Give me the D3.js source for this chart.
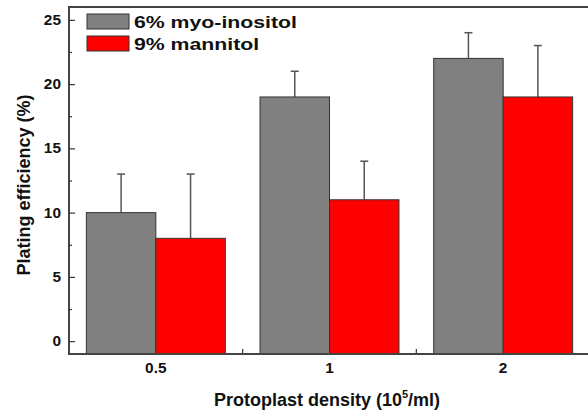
<!DOCTYPE html>
<html>
<head>
<meta charset="utf-8">
<script src="https://cdn.jsdelivr.net/npm/d3@7"></script>
<style>
  body { margin: 0; background: #fff; }
  text { font-family: "Liberation Sans", Arial, sans-serif; font-weight: bold; fill: #111; }
</style>
</head>
<body>
<div id="chart"></div>
<script>
// data
var densities = ["0.5", "1", "2"];
var seriesNames = ["6% myo-inositol", "9% mannitol"];
var inositol = [10, 19, 22];
var inositolErr = [3, 2, 2];
var mannitol = [8, 11, 19];
var mannitolErr = [5, 3, 4];
var yTicks = [0, 5, 10, 15, 20, 25];
var colors = ["#808080", "#ff0000"];

var width = 588, height = 410;
var plotLeft = 69, plotRight = 590, plotTop = 7, plotBottom = 354;

var svg = d3.select("#chart").append("svg")
	.attr("width", width)
	.attr("height", height);

var x = d3.scaleBand().domain(densities).range([plotLeft, plotRight]);
var xs = d3.scaleBand().domain(seriesNames).range([0, x.bandwidth()]).paddingOuter(0.25).paddingInner(0);
var y = d3.scaleLinear().domain([-1, 26]).range([plotBottom, plotTop]);

var rows = densities.map(function(d, i) {
	return [
		{ cat: d, s: seriesNames[0], v: inositol[i], e: inositolErr[i], c: colors[0] },
		{ cat: d, s: seriesNames[1], v: mannitol[i], e: mannitolErr[i], c: colors[1] }
	];
});
var flat = [].concat.apply([], rows);

function cx(d) { return x(d.cat) + xs(d.s) + xs.bandwidth() / 2; }

// stretch text a bit wider, the original font is broader than Liberation
function widen(sel, k) {
	sel.each(function() {
		var w = this.getComputedTextLength();
		d3.select(this).attr("textLength", w * k).attr("lengthAdjust", "spacingAndGlyphs");
	});
}

// error bars (upper only), drawn behind bars
var err = svg.selectAll(".err").data(flat).enter().append("g").attr("class", "err");
err.append("line")
	.attr("x1", cx).attr("x2", cx)
	.attr("y1", function(d) { return y(d.v); })
	.attr("y2", function(d) { return y(d.v + d.e); })
	.attr("stroke", "#555").attr("stroke-width", 1.5);
err.append("line")
	.attr("x1", function(d) { return cx(d) - 4; })
	.attr("x2", function(d) { return cx(d) + 4; })
	.attr("y1", function(d) { return y(d.v + d.e); })
	.attr("y2", function(d) { return y(d.v + d.e); })
	.attr("stroke", "#555").attr("stroke-width", 1.5);

svg.selectAll(".bar").data(flat).enter().append("rect")
	.attr("class", "bar")
	.attr("x", function(d) { return x(d.cat) + xs(d.s); })
	.attr("y", function(d) { return y(d.v); })
	.attr("width", xs.bandwidth())
	.attr("height", function(d) { return y(-1) - y(d.v); })
	.attr("fill", function(d) { return d.c; })
	.attr("stroke", "#333").attr("stroke-width", 1);

// frame: top line, left axis
svg.append("line").attr("x1", plotLeft).attr("x2", width).attr("y1", plotTop).attr("y2", plotTop)
	.attr("stroke", "#444").attr("stroke-width", 2);

var yAxis = svg.append("g").attr("transform", "translate(" + plotLeft + ",0)")
	.call(d3.axisRight(y).tickValues(yTicks).tickSize(6).tickFormat(""));
yAxis.select(".domain").remove();
yAxis.selectAll("line").attr("stroke", "#333").attr("stroke-width", 1.2);
var yMinor = svg.append("g").attr("transform", "translate(" + plotLeft + ",0)")
	.call(d3.axisRight(y).tickValues([2.5, 7.5, 12.5, 17.5, 22.5]).tickSize(3).tickFormat(""));
yMinor.select(".domain").remove();
yMinor.selectAll("line").attr("stroke", "#333").attr("stroke-width", 1.2);

svg.selectAll(".ylab").data(yTicks).enter().append("text")
	.attr("x", 61).attr("y", function(d) { return y(d) + 5; })
	.attr("text-anchor", "end").attr("font-size", 14)
	.text(function(d) { return d; })
	.call(widen, 1.1);

svg.append("line").attr("x1", plotLeft).attr("x2", plotLeft).attr("y1", plotTop - 1).attr("y2", plotBottom + 1)
	.attr("stroke", "#444").attr("stroke-width", 2);

// x axis
var xMid = [x(densities[1]), x(densities[2])];
svg.selectAll(".xtick").data(xMid).enter().append("line")
	.attr("x1", function(d) { return d; }).attr("x2", function(d) { return d; })
	.attr("y1", plotBottom).attr("y2", plotBottom - 5)
	.attr("stroke", "#333").attr("stroke-width", 1.2);
svg.append("line").attr("x1", plotLeft).attr("x2", width).attr("y1", plotBottom).attr("y2", plotBottom)
	.attr("stroke", "#444").attr("stroke-width", 2);

svg.selectAll(".xlab").data(densities).enter().append("text")
	.attr("x", function(d) { return x(d) + x.bandwidth() / 2; })
	.attr("y", 373).attr("text-anchor", "middle").attr("font-size", 14)
	.text(function(d) { return d; })
	.call(widen, 1.1);

// axis titles
var xt = svg.append("text").attr("x", 327).attr("y", 406).attr("text-anchor", "middle").attr("font-size", 18);
xt.append("tspan").text("Protoplast density (10");
xt.append("tspan").attr("font-size", 11).attr("dy", -8).text("5");
xt.append("tspan").attr("dy", 8).text("/ml)");

svg.append("text")
	.attr("transform", "translate(30,185) rotate(-90)")
	.attr("text-anchor", "middle").attr("font-size", 18)
	.text("Plating efficiency (%)");

// legend
var legend = svg.selectAll(".leg").data(seriesNames).enter().append("g")
	.attr("transform", function(d, i) { return "translate(87," + (14 + i * 22) + ")"; });
legend.append("rect").attr("width", 42).attr("height", 15)
	.attr("fill", function(d, i) { return colors[i]; })
	.attr("stroke", "#333").attr("stroke-width", 1);
legend.append("text").attr("x", 47).attr("y", 13.5).attr("font-size", 17)
	.text(function(d) { return d; })
	.call(widen, 1.25);
</script>
</body>
</html>
